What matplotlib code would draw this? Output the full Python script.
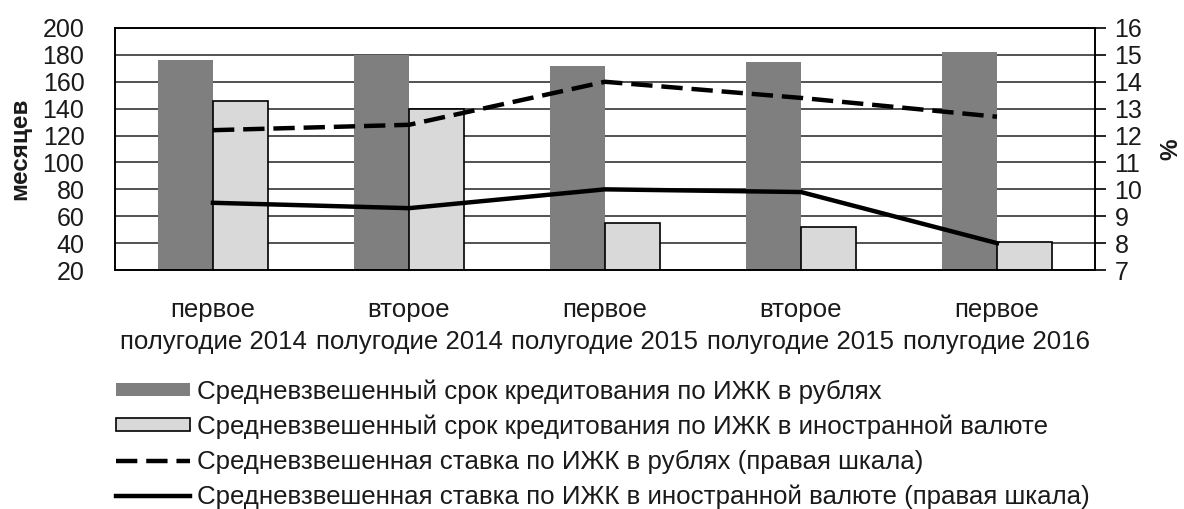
import numpy as np
import matplotlib
matplotlib.use("Agg")
import matplotlib.pyplot as plt
from matplotlib.patches import Patch
from matplotlib.lines import Line2D

plt.rcParams['font.family'] = ['Liberation Sans', 'DejaVu Sans']

categories = ["первое\nполугодие 2014", "второе\nполугодие 2014",
              "первое\nполугодие 2015", "второе\nполугодие 2015",
              "первое\nполугодие 2016"]
term_rub = [176, 180, 172, 175, 182]
term_fx = [146, 140, 55, 52, 41]
rate_rub = [12.2, 12.4, 14.0, 13.4, 12.7]
rate_fx = [9.5, 9.3, 10.0, 9.9, 8.0]

legend_labels = [
    "Средневзвешенный срок кредитования по ИЖК в рублях",
    "Средневзвешенный срок кредитования по ИЖК в иностранной валюте",
    "Средневзвешенная ставка по ИЖК в рублях (правая шкала)",
    "Средневзвешенная ставка по ИЖК в иностранной валюте (правая шкала)",
]

FS = 18.6
TICK_FS = 18
dark = "#7f7f7f"
light = "#d9d9d9"
ink = "#1a1a1a"
DASH = (4.8, 2.0)

fig = plt.figure(figsize=(11.84, 5.09), dpi=100)
ax = fig.add_axes([0.0971, 0.4695, 0.8277, 0.4755])
ax2 = ax.twinx()

x = np.arange(len(categories))
w = 0.28
ax.bar(x - w / 2, term_rub, width=w, color=dark, edgecolor="none", zorder=2)
ax.bar(x + w / 2, term_fx, width=w, color=light, edgecolor="black",
       linewidth=1.2, zorder=2)

ax.set_xlim(-0.5, len(categories) - 0.5)
ax.set_ylim(20, 200)
ax.set_yticks(np.arange(20, 201, 20))
ax.set_axisbelow(True)
ax.yaxis.grid(True, color="#333333", linewidth=1.2)
ax.tick_params(axis="y", length=0, pad=22, labelsize=TICK_FS, labelcolor=ink)
ax.tick_params(axis="x", length=0, pad=20, labelsize=FS, labelcolor=ink)
ax.set_xticks(x)
ax.set_xticklabels(categories, linespacing=1.45)
ax.set_ylabel("месяцев", fontsize=17.5, fontweight="bold", labelpad=8,
              color=ink)

ax2.plot(x, rate_rub, color="black", linewidth=3.2, dashes=DASH, zorder=3)
ax2.plot(x, rate_fx, color="black", linewidth=3.2, zorder=3)
ax2.set_ylim(7, 16)
ax2.set_yticks(np.arange(7, 17, 1))
ax2.tick_params(axis="y", direction="out", length=8, width=1.2,
                pad=6, labelsize=TICK_FS, labelcolor=ink)
ax2.set_ylabel("%", fontsize=17.5, fontweight="bold", labelpad=12, color=ink)

for a in (ax, ax2):
    for s in a.spines.values():
        s.set_color("black")
        s.set_linewidth(1.2)

handles = [
    Patch(facecolor=dark, edgecolor="none"),
    Patch(facecolor=light, edgecolor="black", linewidth=1.2),
    Line2D([0], [0], color="black", linewidth=3.2, dashes=DASH),
    Line2D([0], [0], color="black", linewidth=3.2),
]
leg = fig.legend(handles, legend_labels, loc="upper left",
                 bbox_to_anchor=(116 / 1184, 1 - 379 / 509), frameon=False,
                 fontsize=FS, handlelength=2.85, handleheight=0.42,
                 handletextpad=0.3, labelspacing=0.42, borderpad=0,
                 borderaxespad=0)
for t in leg.get_texts():
    t.set_color(ink)

fig.savefig("out.png", dpi=100)
